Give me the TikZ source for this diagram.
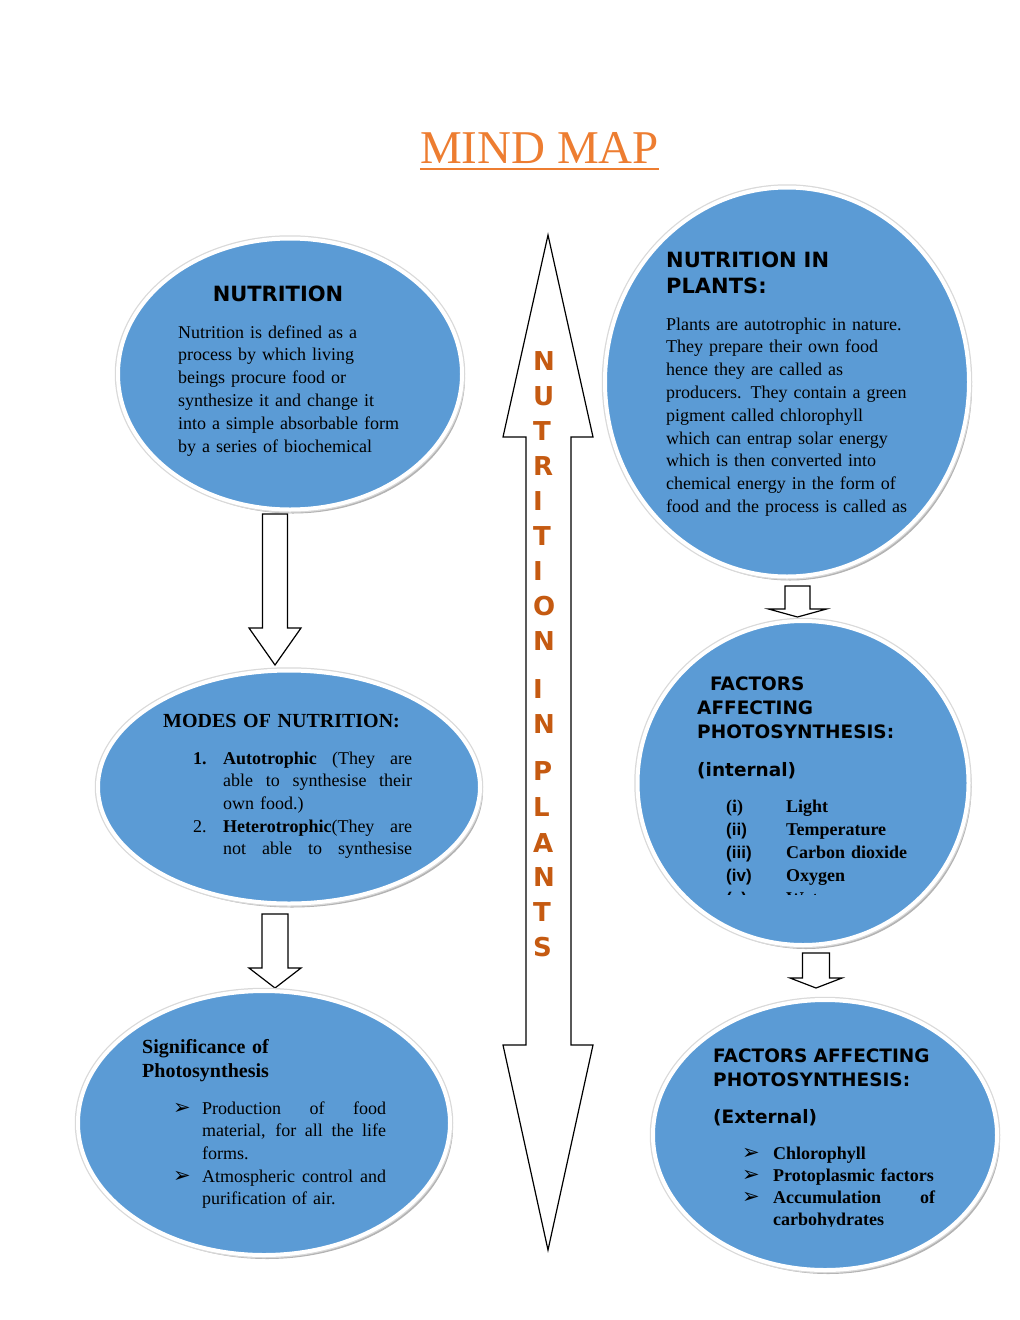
\documentclass[tikz,border=0pt]{standalone}
\usepackage{fontspec}
\setmainfont{Liberation Serif}
\newfontfamily\headfont{DejaVu Sans}
\newfontfamily\symfont{DejaVu Sans}
\newfontfamily\labelfont{Liberation Sans}
\usetikzlibrary{shapes.geometric, shadows, positioning}
\definecolor{bubbleblue}{HTML}{5B9BD5}
\definecolor{titleorange}{HTML}{ED7D31}
\definecolor{letterbrown}{HTML}{C55A11}

% block arrow pointing down: centre x, shaft half, head half, top, head base, tip
\newcommand{\blockarrow}[6]{%
  \draw[blockline] (#1-#2,#4) -- (#1+#2,#4) -- (#1+#2,#5) -- (#1+#3,#5) -- (#1,#6)
    -- (#1-#3,#5) -- (#1-#2,#5) -- cycle;}
% one justified line of a given width
\newcommand{\justline}[2]{\makebox[#1][s]{\spaceskip=0pt\xspaceskip=0pt\relax #2}}

\begin{document}
\begin{tikzpicture}[x=1pt, y=-1pt,
  blockline/.style = {draw=black, fill=white, line width=1.2pt, line join=miter},
  bubble/.style = {ellipse, inner sep=0pt,
    drop shadow={shadow xshift=3pt, shadow yshift=-4pt, fill=gray, opacity=.6},
    preaction={draw=gray!30, line width=6.5pt},
    fill=bubbleblue, draw=white, line width=4pt},
  bodytext/.style = {anchor=base west, inner sep=0pt, align=left, text width=260pt,
    font=\fontsize{18}{22.8}\selectfont},
  headtext/.style = {anchor=base west, inner sep=0pt, align=left, text width=260pt,
    font=\headfont\bfseries\fontsize{18.5}{24}\selectfont},
  boldtext/.style = {bodytext, font=\bfseries\fontsize{18}{22.8}\selectfont},
  bullet/.style = {anchor=base west, inner sep=0pt, font=\symfont\fontsize{21}{22}\selectfont},
  vletter/.style = {anchor=base west, inner sep=0pt, text=letterbrown,
    font=\headfont\bfseries\fontsize{26}{28}\selectfont}]
\useasboundingbox (0,0) rectangle (1020,1320);

% title
\node[anchor=base, inner sep=0pt, text=titleorange, font=\fontsize{47}{50}\selectfont]
  (title) at (539.5,163) {MIND MAP};
\draw[titleorange, line width=2pt] ([yshift=-6pt]title.base west) -- ([yshift=-6pt]title.base east);

% arrows
\blockarrow{275}{12.5}{26}{514}{628}{665}
\blockarrow{275}{13}{26}{914}{968}{988}
\blockarrow{797.5}{12.5}{29}{586}{609}{617}
\blockarrow{816}{13.5}{26}{953}{978}{988}
\draw[blockline] (548,235) -- (593,437) -- (571,437) -- (571,1045) -- (593,1045) -- (548,1250)
  -- (503,1045) -- (526,1045) -- (526,437) -- (503,437) -- cycle;

% vertical title
\foreach \ch/\yy [count=\i] in {N/370, U/405, T/440, R/475, I/510, T/545, I/580, O/615, N/650,
    I/698, N/733, P/780, L/816, A/852, N/886, T/921, S/956}
  \node[vletter] (v\i) at (533,\yy) {\ch};

% bubbles
\node[bubble, minimum width=344pt, minimum height=271pt] (nutrition) at (290,374) {};
\node[bubble, minimum width=364pt, minimum height=389pt] (plants) at (787,382) {};
\node[bubble, minimum width=382pt, minimum height=233pt] (modes) at (289,787) {};
\node[bubble, minimum width=331pt, minimum height=324pt] (internal) at (803,783) {};
\node[bubble, minimum width=372pt, minimum height=264pt] (significance) at (264,1123) {};
\node[bubble, minimum width=344pt, minimum height=270pt] (external) at (825,1135) {};

% nutrition
\node[anchor=base, inner sep=0pt, font=\headfont\bfseries\fontsize{21}{24}\selectfont]
  (nutrition-head) at (278,301) {NUTRITION};
\node[bodytext] (nutrition-text) at (178,338) {Nutrition is defined as a\\
  process by which living\\ beings procure food or\\ synthesize it and change it\\
  into a simple absorbable form\\ by a series of biochemical};

% nutrition in plants
\node[headtext, font=\headfont\bfseries\fontsize{21}{26}\selectfont] (plants-head) at (666,267)
  {NUTRITION IN\\ PLANTS:};
\begin{scope}
  \clip (600,300) rectangle (980,515);
  \node[bodytext] (plants-text) at (666,330) {Plants are autotrophic in nature.\\
    They prepare their own food\\ hence they are called as\\
    producers. They contain a green\\ pigment called chlorophyll\\
    which can entrap solar energy\\ which is then converted into\\
    chemical energy in the form of\\ food and the process is called as};
\end{scope}

% modes of nutrition
\node[boldtext, font=\bfseries\fontsize{20}{24}\selectfont] (modes-head) at (163,727) {MODES OF NUTRITION:};
\node[boldtext] (modes-n1) at (193,764) {1.};
\node[bodytext] (modes-t1) at (223,764) {\justline{189pt}{\textbf{Autotrophic} (They are}\\
  \justline{189pt}{able to synthesise their}\\ own food.)};
\node[bodytext] (modes-n2) at (193,832) {2.};
\node[bodytext] (modes-t2) at (223,832) {\justline{189pt}{\textbf{Heterotrophic}(They are}\\
  \justline{189pt}{not able to synthesise}};

% internal factors
\node[headtext] (internal-head) at (697,690) {\hspace*{13pt}FACTORS\\ AFFECTING\\ PHOTOSYNTHESIS:};
\node[headtext] (internal-sub) at (697,776) {(internal)};
\node[boldtext] (internal-i) at (726,812) {(i)};
\node[boldtext, font=\labelfont\bfseries\fontsize{17}{23}\selectfont] (internal-ii) at (726,835) {(ii)\\ (iii)\\ (iv)};
\node[boldtext, font=\bfseries\fontsize{18}{23}\selectfont] (internal-list) at (786,812)
  {Light\\ Temperature\\ Carbon dioxide\\ Oxygen};
\begin{scope}
  \clip (700,880) rectangle (950,894);
  \node[boldtext, font=\labelfont\bfseries\fontsize{17}{23}\selectfont] (internal-v) at (726,904) {(v)};
  \node[boldtext] (internal-water) at (786,904) {Water};
\end{scope}

% significance
\node[boldtext, font=\bfseries\fontsize{20}{24}\selectfont] (significance-head) at (142,1053)
  {Significance of\\ Photosynthesis};
\node[bullet] (significance-b1) at (173,1114) {➢};
\node[bodytext] (significance-t1) at (202,1114) {\justline{184pt}{Production of food}\\
  \justline{184pt}{material, for all the life}\\ forms.};
\node[bullet] (significance-b2) at (173,1182) {➢};
\node[bodytext] (significance-t2) at (202,1182) {\justline{184pt}{Atmospheric control and}\\
  purification of air.};

% external factors
\node[headtext] (external-head) at (713,1062) {FACTORS AFFECTING\\ PHOTOSYNTHESIS:};
\node[headtext] (external-sub) at (713,1123) {(External)};
\node[bullet] (external-b1) at (742,1159) {➢};
\node[bullet] (external-b2) at (742,1181) {➢};
\node[bullet] (external-b3) at (742,1203) {➢};
\begin{scope}
  \clip (760,1130) rectangle (960,1226);
  \node[boldtext, font=\bfseries\fontsize{18}{22}\selectfont] (external-list) at (773,1159)
    {Chlorophyll\\ Protoplasmic factors\\ \justline{162pt}{Accumulation of}\\ carbohydrates};
\end{scope}
\end{tikzpicture}
\end{document}
